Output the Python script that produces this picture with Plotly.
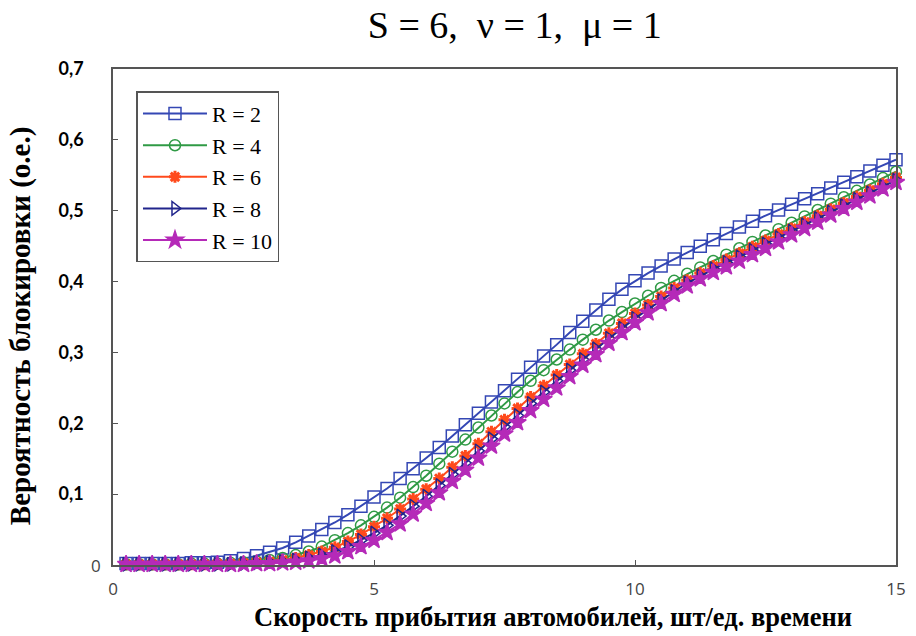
import plotly.graph_objects as go

x_vals = [0.25, 0.5, 0.75, 1.0, 1.25, 1.5, 1.75, 2.0, 2.25, 2.5, 2.75, 3.0,
          3.25, 3.5, 3.75, 4.0, 4.25, 4.5, 4.75, 5.0, 5.25, 5.5, 5.75, 6.0,
          6.25, 6.5, 6.75, 7.0, 7.25, 7.5, 7.75, 8.0, 8.25, 8.5, 8.75, 9.0,
          9.25, 9.5, 9.75, 10.0, 10.25, 10.5, 10.75, 11.0, 11.25, 11.5, 11.75, 12.0,
          12.25, 12.5, 12.75, 13.0, 13.25, 13.5, 13.75, 14.0, 14.25, 14.5, 14.75, 15.0]

r2 = [0.002, 0.002, 0.002, 0.002, 0.002, 0.003, 0.003, 0.004, 0.006, 0.009, 0.013, 0.018,
      0.024, 0.032, 0.041, 0.050, 0.060, 0.071, 0.083, 0.096, 0.108, 0.122, 0.136, 0.151,
      0.166, 0.182, 0.198, 0.214, 0.230, 0.246, 0.262, 0.279, 0.295, 0.311, 0.328, 0.344,
      0.360, 0.375, 0.389, 0.401, 0.412, 0.422, 0.432, 0.441, 0.450, 0.459, 0.468, 0.477,
      0.485, 0.493, 0.501, 0.509, 0.517, 0.524, 0.532, 0.540, 0.548, 0.556, 0.564, 0.572]

r4 = [0.001, 0.001, 0.001, 0.001, 0.001, 0.002, 0.002, 0.002, 0.003, 0.004, 0.005, 0.007,
      0.010, 0.014, 0.019, 0.026, 0.035, 0.045, 0.056, 0.068, 0.081, 0.095, 0.110, 0.126,
      0.143, 0.160, 0.177, 0.194, 0.211, 0.228, 0.244, 0.260, 0.275, 0.290, 0.304, 0.318,
      0.332, 0.345, 0.357, 0.369, 0.380, 0.391, 0.401, 0.411, 0.420, 0.429, 0.438, 0.447,
      0.456, 0.465, 0.474, 0.483, 0.492, 0.501, 0.510, 0.519, 0.528, 0.537, 0.546, 0.555]

r6 = [0.001, 0.001, 0.001, 0.001, 0.001, 0.001, 0.001, 0.002, 0.002, 0.003, 0.004, 0.005,
      0.007, 0.010, 0.014, 0.019, 0.025, 0.033, 0.043, 0.054, 0.066, 0.079, 0.093, 0.107,
      0.122, 0.138, 0.154, 0.171, 0.188, 0.205, 0.221, 0.237, 0.253, 0.268, 0.283, 0.298,
      0.312, 0.327, 0.341, 0.355, 0.367, 0.379, 0.391, 0.402, 0.412, 0.422, 0.431, 0.440,
      0.449, 0.458, 0.467, 0.475, 0.484, 0.493, 0.502, 0.511, 0.520, 0.529, 0.538, 0.547]

r8 = [0.001, 0.001, 0.001, 0.001, 0.001, 0.001, 0.001, 0.001, 0.001, 0.002, 0.003, 0.004,
      0.005, 0.007, 0.010, 0.014, 0.019, 0.026, 0.035, 0.045, 0.056, 0.069, 0.083, 0.097,
      0.112, 0.128, 0.144, 0.161, 0.178, 0.195, 0.211, 0.228, 0.244, 0.260, 0.275, 0.290,
      0.305, 0.320, 0.334, 0.348, 0.361, 0.373, 0.386, 0.398, 0.408, 0.418, 0.427, 0.435,
      0.444, 0.453, 0.462, 0.471, 0.480, 0.489, 0.498, 0.507, 0.516, 0.525, 0.534, 0.543]

r10 = [0.001, 0.001, 0.001, 0.001, 0.001, 0.001, 0.001, 0.001, 0.001, 0.001, 0.002, 0.002,
       0.003, 0.004, 0.006, 0.009, 0.013, 0.019, 0.026, 0.035, 0.046, 0.058, 0.072, 0.087,
       0.102, 0.118, 0.134, 0.151, 0.168, 0.185, 0.201, 0.218, 0.234, 0.250, 0.266, 0.282,
       0.297, 0.313, 0.328, 0.342, 0.356, 0.369, 0.382, 0.394, 0.404, 0.413, 0.421, 0.429,
       0.438, 0.447, 0.456, 0.466, 0.475, 0.484, 0.494, 0.503, 0.512, 0.521, 0.531, 0.540]

series_names = ["R = 2", "R = 4", "R = 6", "R = 8", "R = 10"]
series_values = [r2, r4, r6, r8, r10]

y_tick_vals = [0.1, 0.2, 0.3, 0.4, 0.5, 0.6, 0.7]
y_tick_text = ["0,1", "0,2", "0,3", "0,4", "0,5", "0,6", "0,7"]
x_tick_vals = [0, 5, 10, 15]
x_tick_text = ["0", "5", "10", "15"]

colors = ["#3447b4", "#2f9a45", "#ff4a1c", "#21258c", "#b52ab8"]
symbols = ["square-open", "circle-open", "asterisk-open", "triangle-right-open", "star"]
sizes = [12, 11, 10, 12, 13]

fig = go.Figure()
for i, (name, vals) in enumerate(zip(series_names, series_values)):
    marker = dict(symbol=symbols[i], size=sizes[i], color=colors[i],
                  line=dict(color=colors[i], width=3 if symbols[i] == "asterisk-open" else 1.5))
    fig.add_trace(go.Scatter(
        x=x_vals, y=vals, name=name, mode="lines+markers",
        line=dict(color=colors[i], width=2),
        marker=marker, cliponaxis=False, legendgroup=name,
    ))

fig.update_layout(
    width=916, height=636,
    margin=dict(l=113, r=10, t=69, b=71),
    paper_bgcolor="white", plot_bgcolor="white",
    title=dict(text="S = 6,\u00a0 \u03bd = 1,\u00a0 \u03bc = 1",
               x=0.562, xref="container", xanchor="center",
               y=1 - 25 / 636, yref="container", yanchor="middle",
               font=dict(family="Liberation Serif", size=38, color="black")),
    showlegend=True,
    legend=dict(x=0.03, y=0.955, xanchor="left", yanchor="top",
                bgcolor="white", bordercolor="#555", borderwidth=1.5,
                font=dict(family="Liberation Serif", size=22, color="black"),
                itemwidth=64, tracegroupgap=0),
)

fig.update_xaxes(range=[0, 15], tickvals=x_tick_vals, ticktext=x_tick_text,
                 showline=True, mirror=True, linecolor="#555", linewidth=1.5,
                 ticks="inside", ticklen=5, tickcolor="#555", showgrid=False, zeroline=False,
                 ticklabelstandoff=8,
                 tickfont=dict(family="Open Sans", size=17, color="#444"))
fig.update_yaxes(range=[0, 0.7], tickvals=y_tick_vals, ticktext=y_tick_text,
                 showline=True, mirror=True, linecolor="#555", linewidth=1.5,
                 ticks="inside", ticklen=5, tickcolor="#555", showgrid=False, zeroline=False,
                 ticklabelstandoff=24,
                 tickfont=dict(family="Lato", size=18, color="black", weight="bold"))

fig.add_annotation(text="0", xref="paper", x=-0.013, xanchor="right", yref="y", y=0,
                   yanchor="middle", showarrow=False,
                   font=dict(family="Open Sans", size=17, color="#444"))
fig.add_annotation(text="<b>Скорость прибытия автомобилей, шт/ед. времени</b>",
                   xref="paper", x=(559 - 113) / 793, xanchor="center",
                   yref="paper", y=(565 - 617) / 496, yanchor="middle", showarrow=False,
                   font=dict(family="Liberation Serif", size=26.5, color="black"))
fig.add_annotation(text="<b>Вероятность блокировки (о.е.)</b>",
                   xref="paper", x=(20 - 113) / 793, xanchor="center",
                   yref="paper", y=(565 - 326) / 496, yanchor="middle", showarrow=False,
                   textangle=-90,
                   font=dict(family="Liberation Serif", size=29, color="black"))

fig.write_html("out.html")
